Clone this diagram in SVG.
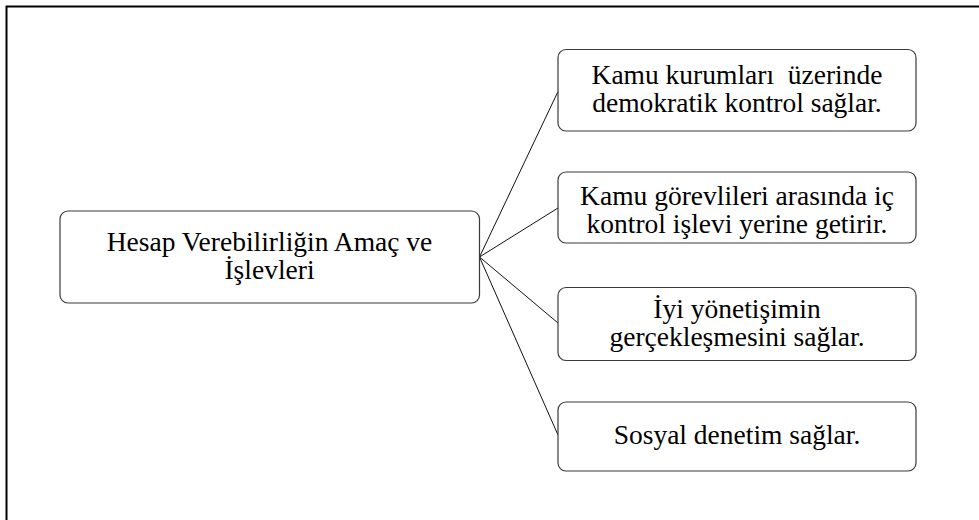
<svg xmlns="http://www.w3.org/2000/svg" width="979" height="520" viewBox="0 0 979 520">
<style>
.frame{fill:none;stroke:#000;stroke-width:2}
.box{fill:#fff;stroke:#3a3a3a;stroke-width:1.2}
.conn{fill:none;stroke:#111;stroke-width:1}
.t{font-family:"Liberation Serif","Times New Roman",serif;font-size:27.5px;fill:#000;text-anchor:middle}
</style>
<rect width="979" height="520" fill="#fff"/>
<path class="frame" d="M979,6.5 H6.5 V520"/>
<g id="connectors">
<line class="conn" x1="479.5" y1="257" x2="558" y2="91.5"/>
<line class="conn" x1="479.5" y1="257" x2="558" y2="208"/>
<line class="conn" x1="479.5" y1="257" x2="558" y2="323"/>
<line class="conn" x1="479.5" y1="257" x2="558" y2="435"/>
</g>
<g id="main">
<rect class="box" x="60" y="211" width="419.5" height="92" rx="8"/>
<text class="t" x="269.5" y="251">Hesap Verebilirliğin Amaç ve</text>
<text class="t" x="269.5" y="279">İşlevleri</text>
</g>
<g id="n1">
<rect class="box" x="558" y="49.5" width="358" height="81.5" rx="8"/>
<text class="t" x="737" y="84" xml:space="preserve">Kamu kurumları  üzerinde</text>
<text class="t" x="737" y="112">demokratik kontrol sağlar.</text>
</g>
<g id="n2">
<rect class="box" x="558" y="172" width="358" height="71" rx="8"/>
<text class="t" x="737" y="204.5">Kamu görevlileri arasında iç</text>
<text class="t" x="737" y="232.5">kontrol işlevi yerine getirir.</text>
</g>
<g id="n3">
<rect class="box" x="558" y="287.5" width="358" height="73" rx="8"/>
<text class="t" x="737" y="318">İyi yönetişimin</text>
<text class="t" x="737" y="346">gerçekleşmesini sağlar.</text>
</g>
<g id="n4">
<rect class="box" x="558" y="402" width="358" height="69" rx="8"/>
<text class="t" x="737" y="444">Sosyal denetim sağlar.</text>
</g>
</svg>
